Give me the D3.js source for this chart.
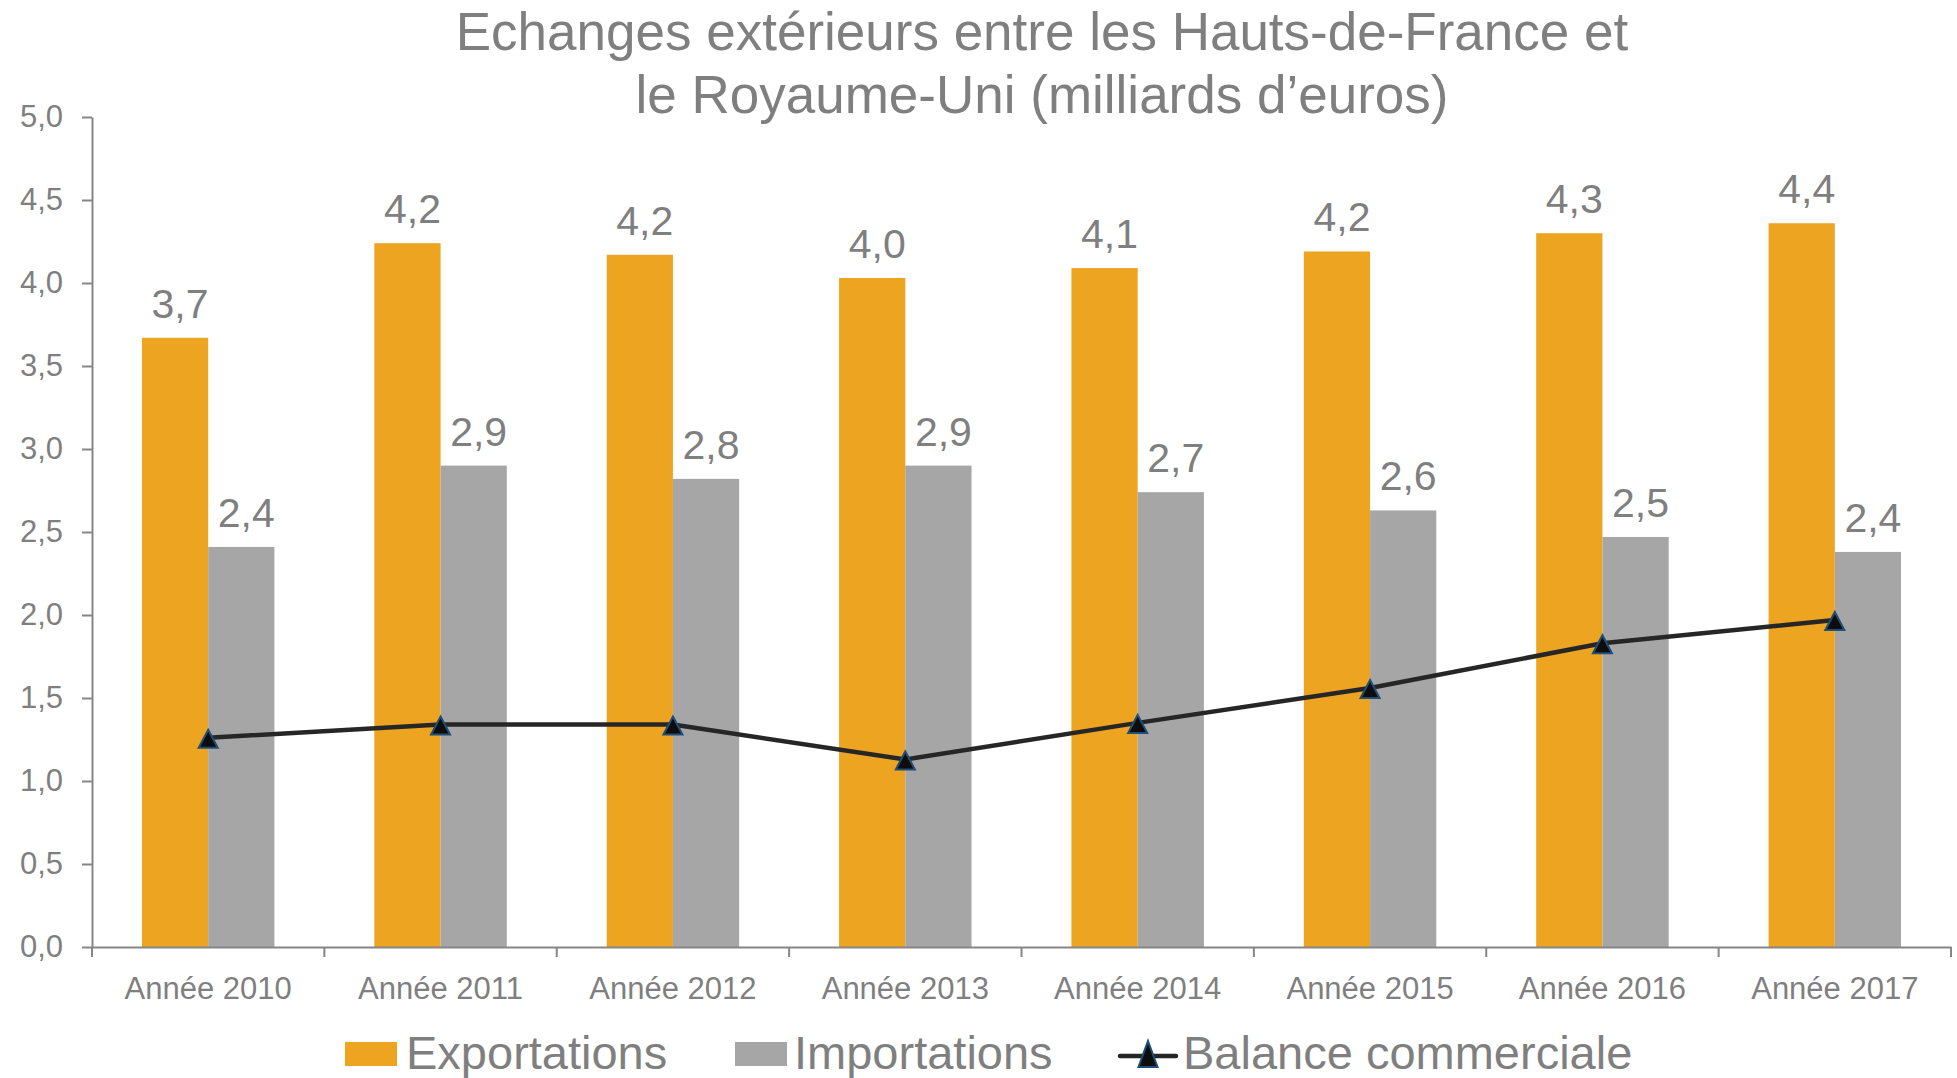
<!DOCTYPE html>
<html lang="fr">
<head>
<meta charset="utf-8"/>
<script src="https://d3js.org/d3.v7.min.js"></script>
<style>
    body { margin: 0; background: #fff; }
    text { font-family: "Liberation Sans", Arial, sans-serif; fill: #7f7f7f; }
</style>
</head>
<body>
<script>
    // Data (milliards d'euros)
    var years = ["Année 2010", "Année 2011", "Année 2012", "Année 2013", "Année 2014", "Année 2015", "Année 2016", "Année 2017"];
    var exportations = [3.67, 4.24, 4.17, 4.03, 4.09, 4.19, 4.30, 4.36];
    var importations = [2.41, 2.90, 2.82, 2.90, 2.74, 2.63, 2.47, 2.38];
    var balance = [1.26, 1.34, 1.34, 1.13, 1.35, 1.56, 1.83, 1.97];
    var yTicks = [0, 0.5, 1, 1.5, 2, 2.5, 3, 3.5, 4, 4.5, 5];
    var titleLines = ["Echanges extérieurs entre les Hauts-de-France et", "le Royaume-Uni (milliards d\u2019euros)"];
    var seriesNames = ["Exportations", "Importations", "Balance commerciale"];

    var width = 1957, height = 1078;
    var margin = {top: 117, right: 6, bottom: 131, left: 92};

    var orange = "#eda421", grey = "#a6a6a6", axisCol = "#868686";

    var fr = d3.formatLocale({decimal: ",", thousands: " ", grouping: [3], currency: ["", " €"]});
    var fmt = fr.format(".1f");

    var svg = d3.select("body")
        .append("svg")
        .attr("width", width)
        .attr("height", height);

    // scales
    var x = d3.scaleBand()
        .domain(years)
        .range([margin.left, width - margin.right]);
    var y = d3.scaleLinear()
        .domain([0, 5])
        .range([height - margin.bottom, margin.top]);

    var barW = x.bandwidth() * 0.285;

    // title
    svg.append("g").selectAll("text")
        .data(titleLines)
        .enter()
        .append("text")
        .attr("x", 1042)
        .attr("y", function(d, i) { return 50 + i * 63; })
        .attr("text-anchor", "middle")
        .style("font-size", "53px")
        .text(function(d) { return d; });

    // bars
    var rows = years.map(function(yr, i) {
        return {year: yr, exp: exportations[i], imp: importations[i], bal: balance[i]};
    });

    svg.append("g").selectAll("rect")
        .data(rows)
        .enter()
        .append("rect")
        .attr("x", function(d) { return x(d.year) + x.bandwidth() / 2 - barW; })
        .attr("y", function(d) { return y(d.exp); })
        .attr("width", barW)
        .attr("height", function(d) { return y(0) - y(d.exp); })
        .style("fill", orange);

    svg.append("g").selectAll("rect")
        .data(rows)
        .enter()
        .append("rect")
        .attr("x", function(d) { return x(d.year) + x.bandwidth() / 2; })
        .attr("y", function(d) { return y(d.imp); })
        .attr("width", barW)
        .attr("height", function(d) { return y(0) - y(d.imp); })
        .style("fill", grey);

    // data labels
    svg.append("g").selectAll("text")
        .data(rows)
        .enter()
        .append("text")
        .attr("x", function(d) { return x(d.year) + x.bandwidth() / 2 - barW / 2 + 5; })
        .attr("y", function(d) { return y(d.exp) - 20; })
        .attr("text-anchor", "middle")
        .style("font-size", "41px")
        .text(function(d) { return fmt(d.exp); });

    svg.append("g").selectAll("text")
        .data(rows)
        .enter()
        .append("text")
        .attr("x", function(d) { return x(d.year) + x.bandwidth() / 2 + barW / 2 + 5; })
        .attr("y", function(d) { return y(d.imp) - 20; })
        .attr("text-anchor", "middle")
        .style("font-size", "41px")
        .text(function(d) { return fmt(d.imp); });

    // y axis
    var yAxis = svg.append("g")
        .attr("transform", "translate(" + margin.left + ",0)")
        .call(d3.axisLeft(y).tickValues(yTicks).tickFormat(fmt).tickSize(10).tickPadding(19).tickSizeOuter(0));
    yAxis.select(".domain").attr("stroke", axisCol).attr("stroke-width", 2);
    yAxis.selectAll(".tick line").attr("stroke", axisCol).attr("stroke-width", 2);
    yAxis.selectAll(".tick text").style("font-size", "31px").attr("fill", "#7f7f7f");

    // x axis
    var xAxis = svg.append("g")
        .attr("transform", "translate(0," + y(0) + ")")
        .call(d3.axisBottom(x).tickSize(0).tickPadding(30).tickSizeOuter(0));
    xAxis.select(".domain").attr("stroke", axisCol).attr("stroke-width", 2);
    xAxis.selectAll(".tick text").style("font-size", "31px").attr("fill", "#7f7f7f");
    xAxis.selectAll(".bound")
        .data(d3.range(years.length + 1))
        .enter()
        .append("line")
        .attr("x1", function(i) { return margin.left + i * x.step(); })
        .attr("x2", function(i) { return margin.left + i * x.step(); })
        .attr("y1", 0)
        .attr("y2", 10)
        .attr("stroke", axisCol)
        .attr("stroke-width", 2);

    // balance line
    var line = d3.line()
        .x(function(d) { return x(d.year) + x.bandwidth() / 2; })
        .y(function(d) { return y(d.bal); });

    svg.append("path")
        .datum(rows)
        .attr("d", line)
        .attr("fill", "none")
        .attr("stroke", "#262626")
        .attr("stroke-width", 4.5);

    function tri(w, h) {
        return "M0," + (-h / 2) + "L" + (w / 2) + "," + (h / 2) + "L" + (-w / 2) + "," + (h / 2) + "Z";
    }

    svg.append("g").selectAll("path")
        .data(rows)
        .enter()
        .append("path")
        .attr("d", tri(19, 18))
        .attr("transform", function(d) { return "translate(" + (x(d.year) + x.bandwidth() / 2) + "," + (y(d.bal) + 1) + ")"; })
        .attr("fill", "#0d0d0d")
        .attr("stroke", "#1f4e79")
        .attr("stroke-width", 2);

    // legend
    var lg = svg.append("g");
    lg.append("rect").attr("x", 345).attr("y", 1042).attr("width", 52).attr("height", 24).style("fill", orange);
    lg.append("text").attr("x", 406).attr("y", 1069).style("font-size", "47px").text(seriesNames[0]);
    lg.append("rect").attr("x", 735).attr("y", 1042).attr("width", 52).attr("height", 24).style("fill", grey);
    lg.append("text").attr("x", 794).attr("y", 1069).style("font-size", "47px").text(seriesNames[1]);
    lg.append("line").attr("x1", 1120).attr("x2", 1176).attr("y1", 1056).attr("y2", 1056)
        .attr("stroke", "#262626").attr("stroke-width", 4.5).attr("stroke-linecap", "round");
    lg.append("path").attr("d", tri(19, 26)).attr("transform", "translate(1148,1054)")
        .attr("fill", "#0d0d0d").attr("stroke", "#1f4e79").attr("stroke-width", 2);
    lg.append("text").attr("x", 1183).attr("y", 1069).style("font-size", "47px").text(seriesNames[2]);
</script>
</body>
</html>
